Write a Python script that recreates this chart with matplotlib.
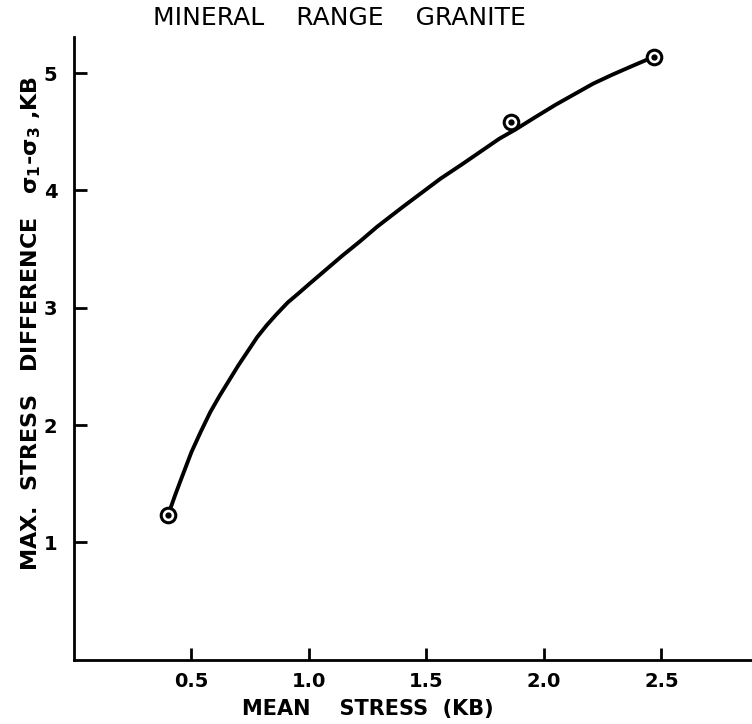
import matplotlib
matplotlib.use("Agg")
import matplotlib.pyplot as plt

# measured points (mean stress, max stress difference), KB
mean_stress = [0.40, 1.86, 2.47]
stress_diff = [1.23, 4.58, 5.14]

# hand-faired curve through the data
curve_x = [0.40, 0.43, 0.46, 0.50, 0.54, 0.58, 0.62, 0.66, 0.70, 0.74,
           0.78, 0.82, 0.86, 0.91, 0.96, 1.00, 1.07, 1.14, 1.22, 1.29,
           1.40, 1.50, 1.56, 1.65, 1.73, 1.81, 1.88, 1.96, 2.05, 2.13,
           2.21, 2.29, 2.37, 2.44, 2.47]
curve_y = [1.23, 1.40, 1.56, 1.77, 1.945, 2.11, 2.25, 2.38, 2.51, 2.63,
           2.75, 2.85, 2.94, 3.045, 3.13, 3.20, 3.32, 3.44, 3.57, 3.69,
           3.86, 4.01, 4.10, 4.22, 4.33, 4.44, 4.52, 4.62, 4.73, 4.82,
           4.91, 4.985, 5.055, 5.115, 5.14]

xticks = [0.5, 1.0, 1.5, 2.0, 2.5]
yticks = [1, 2, 3, 4, 5]

plt.rcParams["font.family"] = "DejaVu Sans"

fig = plt.figure(figsize=(7.52, 7.24), dpi=100)
ax = fig.add_axes([0.0984, 0.0888, 0.9016, 0.8605])

ax.plot(curve_x, curve_y, color="black", lw=2.8, solid_capstyle="round",
        solid_joinstyle="round", zorder=2)
ax.plot(mean_stress, stress_diff, "o", ms=10.5, mfc="white", mec="black",
        mew=2.2, zorder=3)
ax.plot(mean_stress, stress_diff, "o", ms=3.5, color="black", zorder=4)

ax.set_xlim(0, 2.886)
ax.set_ylim(0, 5.31)
ax.set_xticks(xticks)
ax.set_xticklabels([f"{v:.1f}" for v in xticks], fontweight="bold")
ax.set_yticks(yticks)
ax.set_yticklabels([str(v) for v in yticks], fontweight="bold")

for side in ("top", "right"):
    ax.spines[side].set_visible(False)
for side in ("left", "bottom"):
    ax.spines[side].set_linewidth(2.0)

ax.tick_params(direction="in", length=9, width=2.0, labelsize=14, pad=9)
ax.tick_params(axis="y", pad=12)

ax.set_xlabel("MEAN    STRESS  (KB)", fontsize=15, fontweight="bold")
ax.xaxis.set_label_coords(0.434, -0.063)
ax.set_ylabel(r"MAX.  STRESS   DIFFERENCE   $\mathbf{\sigma_{1}}$-$\mathbf{\sigma_3}$ ,KB",
              fontsize=16, fontweight="bold")
ax.yaxis.set_label_coords(-0.045, 0.54)

fig.text(0.451, 0.975, "MINERAL    RANGE    GRANITE", fontsize=18,
         ha="center", va="center")

fig.savefig("out.png", dpi=100, facecolor="white")
